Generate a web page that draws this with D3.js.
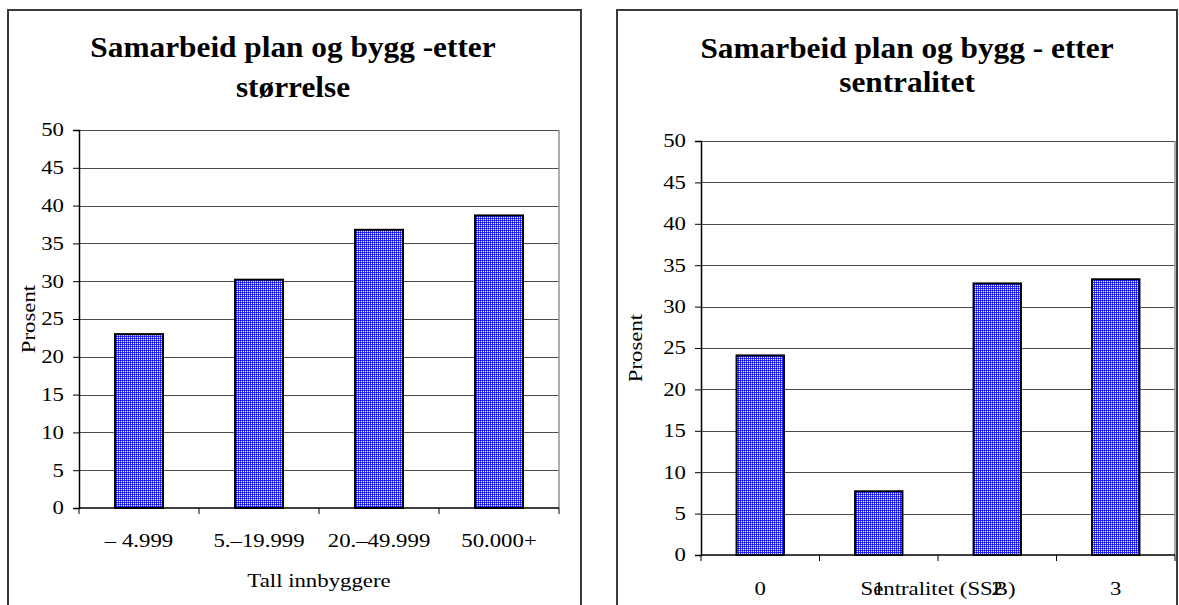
<!DOCTYPE html>
<html>
<head>
<meta charset="utf-8">
<script src="https://cdn.jsdelivr.net/npm/d3@7"></script>
<style>
  html, body { margin: 0; padding: 0; background: #fff; }
  svg { display: block; }
  text { font-family: "Liberation Serif", "Times New Roman", serif; fill: #000; }
</style>
</head>
<body>
<svg id="chart" width="1179" height="605"></svg>
<script>
// ---- data ----
const leftTitle = ["Samarbeid plan og bygg -etter", "størrelse"];
const leftCategories = ["– 4.999", "5.–19.999", "20.–49.999", "50.000+"];
const leftValues = [23.0, 30.2, 36.8, 38.7];
const leftXTitle = "Tall innbyggere";

const rightTitle = ["Samarbeid plan og bygg - etter", "sentralitet"];
const rightCategories = ["0", "1", "2", "3"];
const rightValues = [24.1, 7.7, 32.8, 33.3];
const rightXTitle = "Sentralitet (SSB)";

const yTickValues = [0, 5, 10, 15, 20, 25, 30, 35, 40, 45, 50];
const yLabel = "Prosent";

// ---- drawing ----
const svg = d3.select("#chart");

const defs = svg.append("defs");
const pat = defs.append("pattern")
  .attr("id", "diamond")
  .attr("patternUnits", "userSpaceOnUse")
  .attr("width", 4).attr("height", 4);
pat.append("rect").attr("width", 4).attr("height", 4).attr("fill", "#4444ff").attr("shape-rendering", "crispEdges");
[[0,0],[2,2],[0,2],[2,0]].forEach(([x,y]) => pat.append("rect").attr("x", x).attr("y", y).attr("width", 1).attr("height", 1).attr("fill", "#0000ff").attr("shape-rendering", "crispEdges"));
[[1,1],[3,3],[1,3],[3,1]].forEach(([x,y]) => pat.append("rect").attr("x", x).attr("y", y).attr("width", 1).attr("height", 1).attr("fill", "#f0f0ff").attr("shape-rendering", "crispEdges"));

function stretchText(g, x, y, str, opt) {
  const o = Object.assign({size: 19, sx: 1.2, anchor: "middle", weight: "normal", rotate: 0, baseline: "auto"}, opt || {});
  return g.append("text")
    .attr("transform", `translate(${x},${y}) rotate(${o.rotate}) scale(${o.sx},1)`)
    .attr("text-anchor", o.anchor)
    .attr("dominant-baseline", o.baseline)
    .style("font-size", o.size + "px")
    .style("font-weight", o.weight)
    .text(str);
}

function drawChart(cfg) {
  const g = svg.append("g");
  // outer box
  g.append("rect")
    .attr("x", cfg.box[0]).attr("y", cfg.box[1])
    .attr("width", cfg.box[2] - cfg.box[0]).attr("height", cfg.box[3] - cfg.box[1])
    .attr("fill", "#fff").attr("stroke", "#3a3a3a").attr("stroke-width", 2);

  const [px0, py0, px1, py1] = cfg.plot;
  const x = d3.scaleBand().domain(cfg.categories).range([px0, px1]).paddingInner(0).paddingOuter(0);
  const y = d3.scaleLinear().domain([0, 50]).range([py1, py0]);

  // gridlines
  const grid = g.append("g").attr("transform", `translate(${px0},0)`)
    .call(d3.axisLeft(y).tickValues(yTickValues.filter(v => v > 0)).tickSize(-(px1 - px0)).tickFormat(""));
  grid.select(".domain").remove();
  grid.selectAll("line").attr("stroke", "#4a4a4a").attr("stroke-width", 1).attr("shape-rendering", "crispEdges");

  // right border of plot area
  g.append("line").attr("x1", px1).attr("x2", px1).attr("y1", py0).attr("y2", py1)
    .attr("stroke", "#909090").attr("stroke-width", 1.5);

  // bars
  const bw = x.bandwidth() * 0.4;
  g.append("g").selectAll("rect").data(cfg.values).join("rect")
    .attr("x", (d, i) => x(cfg.categories[i]) + (x.bandwidth() - bw) / 2)
    .attr("y", d => y(d))
    .attr("width", bw)
    .attr("height", d => y(0) - y(d))
    .attr("fill", "url(#diamond)")
    .attr("stroke", "#000").attr("stroke-width", 2);

  // y axis
  const ya = g.append("g").attr("transform", `translate(${px0},0)`)
    .call(d3.axisLeft(y).tickValues(yTickValues).tickSize(6).tickFormat(""));
  ya.select(".domain").attr("stroke", "#000").attr("stroke-width", 1.5);
  ya.selectAll("line").attr("stroke", "#000");
  yTickValues.forEach(v => stretchText(g, px0 - cfg.yLabelGap, y(v), String(v), {anchor: "end", baseline: "central"}));

  // x axis with boundary ticks
  g.append("line").attr("x1", px0).attr("x2", px1).attr("y1", py1).attr("y2", py1)
    .attr("stroke", "#000").attr("stroke-width", 1.5);
  const bounds = cfg.categories.map(c => x(c)).concat([px1]);
  g.append("g").selectAll("line").data(bounds).join("line")
    .attr("x1", d => d).attr("x2", d => d).attr("y1", py1).attr("y2", py1 + 6)
    .attr("stroke", "#000").attr("stroke-width", 1);
  cfg.categories.forEach(c => stretchText(g, x(c) + x.bandwidth() / 2, cfg.xLabelY, c, {}));

  // axis titles
  stretchText(g, (px0 + px1) / 2, cfg.xTitleY, cfg.xTitle, {});
  stretchText(g, cfg.yTitleX, (py0 + py1) / 2, yLabel, {rotate: -90, baseline: "central"});

  // title
  cfg.title.forEach((t, i) => stretchText(g, cfg.titleX, cfg.titleY[i], t, {size: 29, sx: 1.08, weight: "bold"}));
}

drawChart({
  box: [8, 10, 581, 640],
  plot: [79, 130, 559, 508],
  categories: leftCategories, values: leftValues,
  yLabelGap: 15, xLabelY: 547, xTitleY: 587, xTitle: leftXTitle, yTitleX: 29,
  title: leftTitle, titleX: 293, titleY: [57, 97]
});

drawChart({
  box: [617, 10, 1177, 640],
  plot: [701, 141, 1175, 555],
  categories: rightCategories, values: rightValues,
  yLabelGap: 15, xLabelY: 595, xTitleY: 595, xTitle: rightXTitle, yTitleX: 636,
  title: rightTitle, titleX: 907, titleY: [58, 92]
});
</script>
</body>
</html>
